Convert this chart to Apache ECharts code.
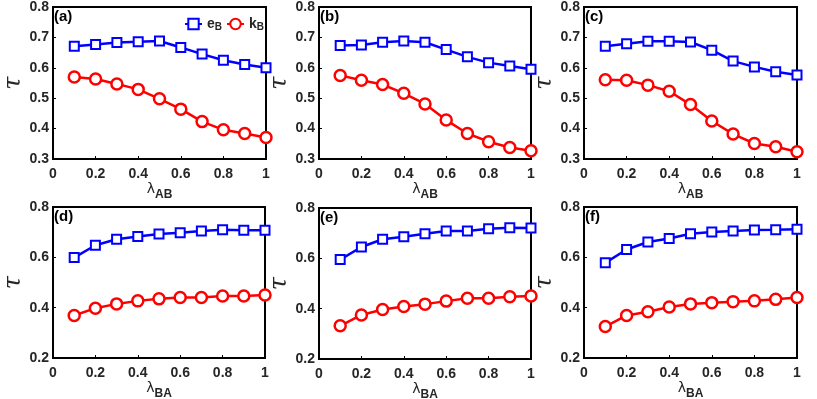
<!DOCTYPE html>
<html>
<head>
<meta charset="utf-8">
<script src="https://cdn.jsdelivr.net/npm/echarts@6/dist/echarts.min.js"></script>
<style>
	html, body { margin: 0; padding: 0; background: #fff; }
	#chart { width: 817px; height: 399px; }
</style>
</head>
<body>
<div id="chart"></div>
<script>
// x values (lambda)
var lambdaVals = [0.1, 0.2, 0.3, 0.4, 0.5, 0.6, 0.7, 0.8, 0.9, 1.0];

// top row: lambda_AB
var eB_a = [0.671, 0.677, 0.683, 0.686, 0.688, 0.667, 0.645, 0.625, 0.611, 0.600];
var kB_a = [0.570, 0.563, 0.547, 0.529, 0.498, 0.464, 0.423, 0.396, 0.384, 0.371];
var eB_b = [0.673, 0.675, 0.684, 0.688, 0.684, 0.660, 0.636, 0.617, 0.606, 0.595];
var kB_b = [0.575, 0.559, 0.545, 0.516, 0.481, 0.428, 0.384, 0.357, 0.338, 0.327];
var eB_c = [0.671, 0.679, 0.687, 0.687, 0.685, 0.658, 0.622, 0.603, 0.587, 0.576];
var kB_c = [0.561, 0.559, 0.543, 0.523, 0.479, 0.425, 0.382, 0.351, 0.340, 0.324];

// bottom row: lambda_BA
var eB_d = [0.599, 0.648, 0.672, 0.683, 0.693, 0.698, 0.705, 0.710, 0.708, 0.708];
var kB_d = [0.369, 0.398, 0.415, 0.427, 0.435, 0.440, 0.440, 0.446, 0.446, 0.450];
var eB_e = [0.595, 0.645, 0.676, 0.686, 0.698, 0.709, 0.709, 0.718, 0.722, 0.721];
var kB_e = [0.332, 0.375, 0.397, 0.409, 0.418, 0.430, 0.441, 0.441, 0.447, 0.450];
var eB_f = [0.578, 0.631, 0.661, 0.675, 0.694, 0.701, 0.705, 0.709, 0.710, 0.712];
var kB_f = [0.325, 0.369, 0.384, 0.403, 0.415, 0.420, 0.424, 0.427, 0.433, 0.440];

var panels = [
	{ tag: '(a)', e: eB_a, k: kB_a, sub: 'AB', ymin: 0.3, ymax: 0.8, yint: 0.1, grid: { left: 53, top: 7, width: 213, height: 152 } },
	{ tag: '(b)', e: eB_b, k: kB_b, sub: 'AB', ymin: 0.3, ymax: 0.8, yint: 0.1, grid: { left: 319, top: 7, width: 212, height: 152 } },
	{ tag: '(c)', e: eB_c, k: kB_c, sub: 'AB', ymin: 0.3, ymax: 0.8, yint: 0.1, grid: { left: 584, top: 7, width: 213, height: 152 } },
	{ tag: '(d)', e: eB_d, k: kB_d, sub: 'BA', ymin: 0.2, ymax: 0.8, yint: 0.2, grid: { left: 53, top: 207, width: 212, height: 151 } },
	{ tag: '(e)', e: eB_e, k: kB_e, sub: 'BA', ymin: 0.2, ymax: 0.8, yint: 0.2, grid: { left: 319, top: 208, width: 212, height: 151 } },
	{ tag: '(f)', e: eB_f, k: kB_f, sub: 'BA', ymin: 0.2, ymax: 0.8, yint: 0.2, grid: { left: 584, top: 207, width: 213, height: 151 } }
];

function pairs(ys) {
	var out = [];
	for (var i = 0; i < lambdaVals.length; i++) {
		out.push([lambdaVals[i], ys[i]]);
	}
	return out;
}

var labelStyle = {
	color: '#262626',
	fontWeight: 'bold',
	fontSize: 14,
	fontFamily: 'Liberation Sans, Arial, sans-serif'
};

function build() {
	var myChart = echarts.init(document.getElementById('chart'), null, { renderer: 'canvas' });
	var grids = [], xAxes = [], yAxes = [], series = [], titles = [];
	for (var i = 0; i < panels.length; i++) {
		var p = panels[i];
		grids.push({
			left: p.grid.left, top: p.grid.top, width: p.grid.width, height: p.grid.height,
			outerBoundsMode: 'none',
			containLabel: false,
			show: true, borderColor: '#000', borderWidth: 2, backgroundColor: 'transparent'
		});
		xAxes.push({
			gridIndex: i,
			type: 'value',
			min: 0, max: 1, interval: 0.2,
			name: '{l|λ}{s|' + p.sub + '}',
			nameLocation: 'middle',
			nameGap: 22,
			nameTextStyle: {
				rich: {
					l: { fontSize: 14, color: '#262626', fontFamily: 'DejaVu Sans', padding: [0, 0, 5, 0] },
					s: { fontSize: 12, color: '#262626', fontWeight: 'bold', fontFamily: 'Liberation Sans, Arial', padding: [7, 0, 0, 0] }
				}
			},
			axisLine: { lineStyle: { color: '#000', width: 2 } },
			axisTick: { inside: true, length: 3, lineStyle: { color: '#000' } },
			splitLine: { show: false },
			axisLabel: Object.assign({ margin: 8 }, labelStyle)
		});
		yAxes.push({
			gridIndex: i,
			type: 'value',
			min: p.ymin, max: p.ymax, interval: p.yint,
			name: 'τ',
			nameLocation: 'middle',
			nameGap: 26,
			nameTextStyle: { fontSize: 24, fontStyle: 'italic', fontFamily: 'DejaVu Serif', color: '#262626' },
			axisLine: { lineStyle: { color: '#000', width: 2 } },
			axisTick: { inside: true, length: 3, lineStyle: { color: '#000' } },
			splitLine: { show: false },
			axisLabel: Object.assign({
				margin: 4,
				formatter: function(v) { return v.toFixed(1); }
			}, labelStyle)
		});
		titles.push({
			text: p.tag,
			left: p.grid.left + 1,
			top: p.grid.top + 2,
			textStyle: { fontSize: 15, fontWeight: 'bold', color: '#000', fontFamily: 'Liberation Sans, Arial' },
			padding: 0
		});
		series.push({
			name: 'eB',
			type: 'line',
			xAxisIndex: i, yAxisIndex: i,
			data: pairs(p.e),
			symbol: 'rect',
			symbolSize: 9,
			clip: false,
			lineStyle: { color: '#0000ff', width: 2.5 },
			itemStyle: { color: '#fff', borderColor: '#0000ff', borderWidth: 2 },
			emphasis: { disabled: true }
		});
		series.push({
			name: 'kB',
			type: 'line',
			xAxisIndex: i, yAxisIndex: i,
			data: pairs(p.k),
			symbol: 'circle',
			symbolSize: 11,
			clip: false,
			lineStyle: { color: '#ff0000', width: 2.5 },
			itemStyle: { color: '#fff', borderColor: '#ff0000', borderWidth: 2.5 },
			emphasis: { disabled: true }
		});
	}
	var option = {
		animation: false,
		backgroundColor: '#fff',
		title: titles,
		grid: grids,
		xAxis: xAxes,
		yAxis: yAxes,
		legend: {
			data: ['eB', 'kB'],
			left: 184,
			top: 17,
			itemWidth: 17,
			itemHeight: 13,
			itemGap: 4,
			padding: 0,
			formatter: function(name) {
				return '{n|' + name.charAt(0) + '}{s|' + name.charAt(1) + '}';
			},
			textStyle: {
				rich: {
					n: { fontSize: 14, fontWeight: 'bold', color: '#262626', fontFamily: 'Liberation Sans, Arial' },
					s: { fontSize: 10, fontWeight: 'bold', color: '#262626', fontFamily: 'Liberation Sans, Arial', padding: [6, 0, 0, 0] }
				}
			}
		},
		series: series
	};
	myChart.setOption(option);
}
build();
</script>
</body>
</html>
